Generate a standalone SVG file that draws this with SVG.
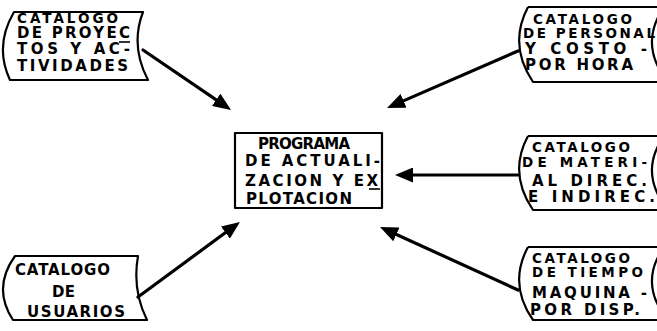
<svg xmlns="http://www.w3.org/2000/svg" width="657" height="331" viewBox="0 0 657 331">
<style>
.shape{fill:none;stroke:#000;stroke-width:2.2;stroke-linejoin:round}
.t{font-family:"DejaVu Sans","Liberation Sans",sans-serif;font-weight:bold;font-size:15px;fill:#000}
.s{font-size:13.5px}
.conn{fill:none;stroke:#000;stroke-width:3.2;stroke-linecap:round}
.ul{stroke:#000;stroke-width:1.6}
</style>
<defs>
<marker id="ah" markerUnits="userSpaceOnUse" markerWidth="18" markerHeight="15" refX="9" refY="7.5" orient="auto">
<path d="M0,0 L18,7.5 L0,15 z" fill="#000"/>
</marker>
</defs>
<rect width="657" height="331" fill="#fff"/>

<g id="proyectos">
<path class="shape" d="M14,12 L143,12 Q130,46 148,80 L10,80 Q-6,46 14,12 z"/>
<text class="t s" x="17" y="23" textLength="101" lengthAdjust="spacing">CATALOGO</text>
<text class="t" x="17" y="38" textLength="113" lengthAdjust="spacing">DE PROYEC</text>
<line class="ul" x1="119" y1="42" x2="130" y2="42"/>
<text class="t" x="17" y="54" textLength="113" lengthAdjust="spacing">TOS Y AC-</text>
<text class="t" x="17" y="71" textLength="111" lengthAdjust="spacing">TIVIDADES</text>
</g>

<g id="personal">
<path class="shape" d="M528,7 L670,7 M670,82 L533,82 Q508,45 528,7"/>
<path class="shape" d="M664,7 Q638,45 668,82"/>
<text class="t s" x="533" y="24" textLength="99" lengthAdjust="spacing">CATALOGO</text>
<text class="t s" x="523" y="38" textLength="132" lengthAdjust="spacing">DE PERSONAL</text>
<text class="t" x="525" y="54" textLength="122" lengthAdjust="spacing">Y COSTO -</text>
<text class="t" x="525" y="70" textLength="108" lengthAdjust="spacing">POR HORA</text>
</g>

<g id="programa">
<rect class="shape" x="235" y="133" width="147" height="75"/>
<text class="t" x="258" y="149" textLength="92" lengthAdjust="spacing">PROGRAMA</text>
<text class="t" x="245" y="166" textLength="135" lengthAdjust="spacing">DE ACTUALI-</text>
<text class="t" x="245" y="186" textLength="133" lengthAdjust="spacing">ZACION Y EX</text>
<line class="ul" x1="369" y1="189" x2="380" y2="189"/>
<text class="t" x="246" y="204" textLength="106" lengthAdjust="spacing">PLOTACION</text>
</g>

<g id="material">
<path class="shape" d="M528,136 L670,136 M670,210 L533,210 Q508,173 528,136"/>
<path class="shape" d="M664,136 Q638,173 668,210"/>
<text class="t s" x="532" y="152" textLength="98" lengthAdjust="spacing">CATALOGO</text>
<text class="t s" x="522" y="167" textLength="125" lengthAdjust="spacing">DE MATERI-</text>
<text class="t" x="532" y="186" textLength="115" lengthAdjust="spacing">AL DIREC.</text>
<text class="t" x="528" y="202" textLength="127" lengthAdjust="spacing">E INDIREC.</text>
</g>

<g id="usuarios">
<path class="shape" d="M15,256 L138,256 Q132,290 147,320 L13,320 Q-8,288 15,256 z"/>
<text class="t" x="15" y="275" textLength="95" lengthAdjust="spacing">CATALOGO</text>
<text class="t" x="52" y="297" textLength="23" lengthAdjust="spacing">DE</text>
<text class="t" x="27" y="317" textLength="98" lengthAdjust="spacing">USUARIOS</text>
</g>

<g id="tiempo">
<path class="shape" d="M528,247 L670,247 M670,320 L533,320 Q508,284 528,247"/>
<path class="shape" d="M664,247 Q638,284 668,320"/>
<text class="t s" x="532" y="263" textLength="98" lengthAdjust="spacing">CATALOGO</text>
<text class="t s" x="532" y="277" textLength="111" lengthAdjust="spacing">DE TIEMPO</text>
<text class="t" x="532" y="298" textLength="115" lengthAdjust="spacing">MAQUINA -</text>
<text class="t" x="530" y="315" textLength="110" lengthAdjust="spacing">POR DISP.</text>
</g>

<g id="connectors">
<line class="conn" x1="143" y1="50" x2="223.6" y2="104.9" marker-end="url(#ah)"/>
<line class="conn" x1="518" y1="51" x2="395.3" y2="104.4" marker-end="url(#ah)"/>
<line class="conn" x1="518" y1="175" x2="404" y2="175" marker-end="url(#ah)"/>
<line class="conn" x1="138" y1="297" x2="232.7" y2="227.3" marker-end="url(#ah)"/>
<line class="conn" x1="518" y1="290" x2="388.2" y2="230.7" marker-end="url(#ah)"/>
</g>
</svg>
